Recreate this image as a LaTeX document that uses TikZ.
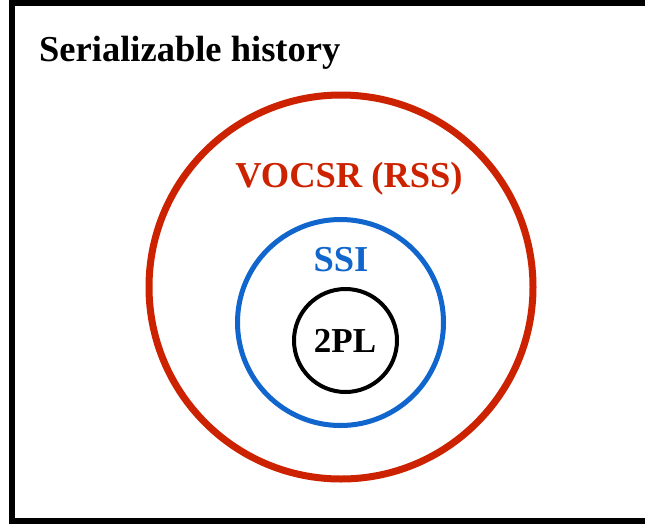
\documentclass[tikz,border=0pt]{standalone}
\usepackage{fontspec}
\setmainfont{Liberation Serif}
\definecolor{setred}{RGB}{204,34,0}
\definecolor{setblue}{RGB}{16,102,204}
\tikzset{
  setring/.style={draw, circle, inner sep=0pt, fill=none},
  setlabel/.style={inner sep=0pt, font=\fontsize{36.5}{44}\selectfont\bfseries},
}
\begin{document}
\begin{tikzpicture}[x=1pt, y=-1pt]
  \useasboundingbox (0,0) rectangle (645,525);
  \clip (0,0) rectangle (645,525);
  \fill[white] (0,0) rectangle (645,525);
  % outer frame of all serializable histories
  \draw[line width=6pt] (12,2.5) rectangle (700,520.5) coordinate (frame);
  % nested classes
  \node[setring, setred, line width=7pt, minimum size=384pt] (vocsr) at (341,287) {};
  \node[setring, setblue, line width=5pt, minimum size=206pt] (ssi) at (340.5,322.5) {};
  \node[setring, black, line width=4pt, minimum size=103pt] (tpl) at (345.5,340.5) {};
  % labels
  \node[setlabel, anchor=base west] (title) at (39,61) {Serializable history};
  \node[setlabel, anchor=base, text=setred] (vocsrlabel) at (349,187) {VOCSR (RSS)};
  \node[setlabel, anchor=base, text=setblue] (ssilabel) at (341,271) {SSI};
  \node[setlabel, anchor=base, font=\fontsize{35}{42}\selectfont\bfseries] (tpllabel) at (345,352) {2PL};
\end{tikzpicture}
\end{document}
